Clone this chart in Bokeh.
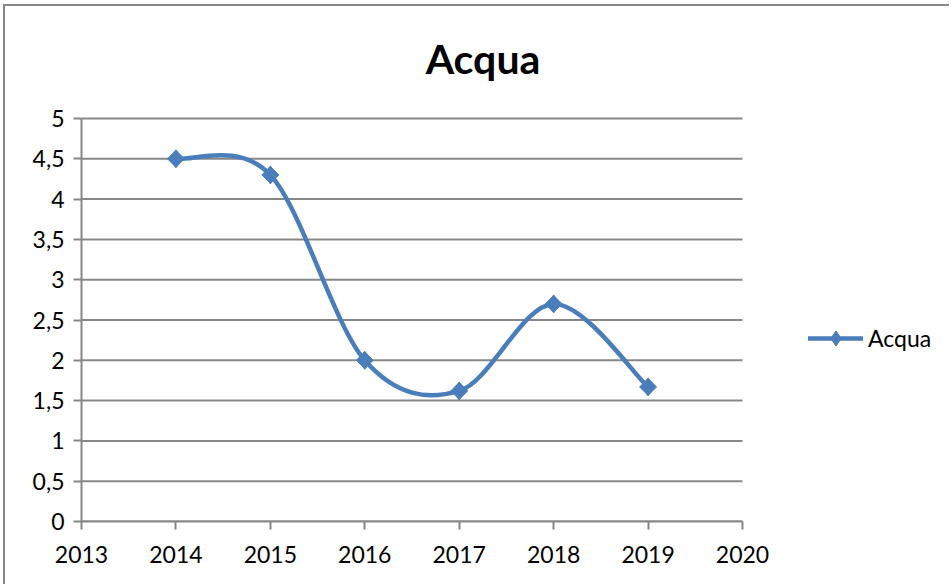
import numpy as np
from bokeh.plotting import figure
from bokeh.models import Range1d, FixedTicker, Legend, LegendItem, Label
from bokeh.embed import file_html
from bokeh.resources import INLINE

years = [2014, 2015, 2016, 2017, 2018, 2019]
values = [4.5, 4.3, 2.0, 1.62, 2.7, 1.67]
x_ticks = [2013, 2014, 2015, 2016, 2017, 2018, 2019, 2020]
y_ticks = [0, 0.5, 1, 1.5, 2, 2.5, 3, 3.5, 4, 4.5, 5]
y_tick_labels = ["0", "0,5", "1", "1,5", "2", "2,5", "3", "3,5", "4", "4,5", "5"]
series_name = "Acqua"
title_text = "Acqua"

BLUE = "#4a7ebb"
GRAY = "#878787"
FONT = "Lato"

# layout (canvas pixels; canvas origin sits at page (5, 6))
W, H = 946, 580
LEFT, BOTTOM = 76, 65
AXIS_PX = 661     # pixel width of the 2013..2020 axis
Y_PX = 403        # pixel height of the 0..5 axis
frame_w = W - LEFT
frame_h = H - BOTTOM
px_x = AXIS_PX / (x_ticks[-1] - x_ticks[0])
px_y = Y_PX / (y_ticks[-1] - y_ticks[0])
x_end = x_ticks[0] + frame_w / px_x
y_end = y_ticks[0] + frame_h / px_y

TITLE_CX = 477.5 - LEFT       # title centre, px right of the axis origin
TITLE_BASE = frame_h - 52     # title anchor, px above the axis origin

p = figure(width=W, height=H, output_backend="svg", toolbar_location=None,
           x_range=Range1d(x_ticks[0], x_end), y_range=Range1d(y_ticks[0], y_end),
           min_border_left=LEFT, min_border_right=0, min_border_top=0, min_border_bottom=BOTTOM)
p.styles = {"border-left": "2px solid " + GRAY, "border-top": "2px solid " + GRAY,
            "margin-left": "3px", "margin-top": "4px"}
p.outline_line_color = None
p.background_fill_color = "white"

p.add_layout(Label(x=x_ticks[0] + TITLE_CX / px_x, y=y_ticks[0] + TITLE_BASE / px_y,
                   text=title_text, text_align="center", text_baseline="alphabetic",
                   text_font=FONT, text_font_style="bold", text_font_size="41px",
                   text_color="black"))

# horizontal gridlines limited to the axis extent
p.segment(x0=[x_ticks[0]] * len(y_ticks), x1=[x_ticks[-1]] * len(y_ticks), y0=y_ticks, y1=y_ticks,
          line_color=GRAY, line_width=2)

# Smoothed curve (Catmull-Rom style Bezier, as Excel smoothing)
xs = np.array(years, dtype=float)
ys = np.array(values, dtype=float)
xp = np.concatenate([[xs[0]], xs, [xs[-1]]])
yp = np.concatenate([[ys[0]], ys, [ys[-1]]])
n = len(xs)
x0 = xs[:-1]; y0 = ys[:-1]; x1 = xs[1:]; y1 = ys[1:]
cx0 = xp[1:n] + (xp[2:n + 1] - xp[0:n - 1]) / 6
cy0 = yp[1:n] + (yp[2:n + 1] - yp[0:n - 1]) / 6
cx1 = xp[2:n + 1] - (xp[3:n + 2] - xp[1:n]) / 6
cy1 = yp[2:n + 1] - (yp[3:n + 2] - yp[1:n]) / 6

bez = p.bezier(x0=x0, y0=y0, x1=x1, y1=y1, cx0=cx0, cy0=cy0, cx1=cx1, cy1=cy1,
               line_color=BLUE, line_width=4.5, line_cap="round")
dm = p.scatter(years, values, marker="diamond", size=18, fill_color=BLUE, line_color=BLUE)
sc = p.scatter(years, values, marker="square", angle=np.pi / 4, size=12,
               fill_color=BLUE, line_color=BLUE)

# Axes
p.xaxis.ticker = FixedTicker(ticks=x_ticks)
p.xaxis.bounds = (x_ticks[0], x_ticks[-1])
p.yaxis.ticker = FixedTicker(ticks=y_ticks)
p.yaxis.bounds = (y_ticks[0], y_ticks[-1])
p.yaxis.major_label_overrides = {t: l for t, l in zip(y_ticks, y_tick_labels)}
for ax in (p.xaxis, p.yaxis):
    ax.axis_line_color = GRAY
    ax.axis_line_width = 2
    ax.major_tick_line_color = GRAY
    ax.major_tick_line_width = 2
    ax.major_tick_in = 0
    ax.major_tick_out = 8
    ax.minor_tick_line_color = None
    ax.major_label_text_font = FONT
    ax.major_label_text_font_size = "23px"
    ax.major_label_text_color = "black"
p.xaxis.major_label_standoff = 16
p.yaxis.major_label_standoff = 9

p.xgrid.grid_line_color = None
p.ygrid.grid_line_color = None

legend = Legend(items=[LegendItem(label=series_name, renderers=[bez, dm])],
                location=(727, 164), padding=0, margin=0, spacing=0,
                glyph_width=55, glyph_height=38, label_height=38,
                label_standoff=5, border_line_color=None, background_fill_alpha=0,
                label_text_font=FONT, label_text_font_size="23px", label_text_color="black")
p.add_layout(legend)

open("out.html", "w").write(file_html(p, INLINE))
